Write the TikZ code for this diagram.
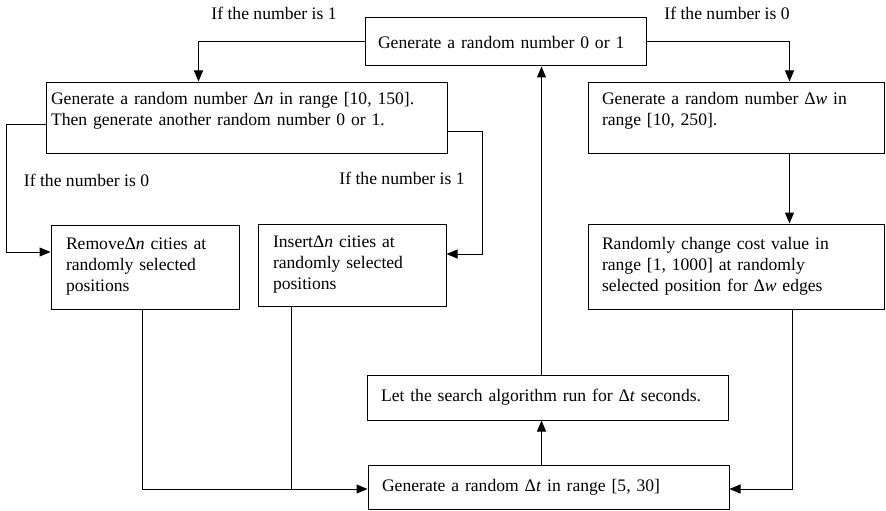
\documentclass[tikz,border=0pt]{standalone}
\usepackage{fontspec}
\setmainfont{Liberation Serif}
\usetikzlibrary{arrows.meta}
\newcommand{\flowfont}{\fontsize{17.6}{21}\selectfont}
\tikzset{
  stage/.style={draw, line width=1pt, align=left, inner xsep=14pt, inner ysep=0pt, font=\flowfont},
  branch/.style={font=\flowfont},
  flow/.style={line width=1pt, -{Triangle[length=11pt, width=9pt]}},
}
\begin{document}
\begin{tikzpicture}[x=1pt, y=-1pt]
  \useasboundingbox (0,0) rectangle (886,511);
  %
  \node[stage, inner xsep=13pt, text width=255pt, minimum height=48pt] (rnd) at (505.5,42)
    {Generate a random number 0 or 1};                                  % top
  %
  \node[stage, inner xsep=5pt, text width=391pt, minimum height=71pt, text depth=38pt] (gen n) at (246.5,117.5)
    {Generate a random number Δ\textit{n} in range [10, 150].\\
     Then generate another random number 0 or 1.};                     % left column
  \node[stage, inner xsep=15pt, text width=158pt, minimum height=84pt] (remove) at (145,267)
    {RemoveΔ\textit{n} cities at\\ randomly selected\\ positions};
  \node[stage, inner xsep=15pt, text width=158pt, minimum height=82pt] (insert) at (352,265)
    {InsertΔ\textit{n} cities at\\ randomly selected\\ positions};
  %
  \node[stage, text width=268pt, minimum height=71pt, text depth=38pt] (gen w) at (736,117.5)
    {Generate a random number Δ\textit{w} in\\ range [10, 250].};     % right column
  \node[stage, text width=268pt, minimum height=85pt] (change) at (736,266.5)
    {Randomly change cost value in\\ range [1, 1000] at randomly\\
     selected position for Δ\textit{w} edges};
  %
  \node[stage, text width=333pt, minimum height=45pt] (run) at (547.5,397.5)
    {Let the search algorithm run for Δ\textit{t} seconds.};         % middle
  \node[stage, text width=333pt, minimum height=44pt] (gen t) at (548.5,487)
    {Generate a random Δ\textit{t} in range [5, 30]};
  %
  \node[branch] (one top) at (274,13) {If the number is 1};            % branch labels
  \node[branch] (zero top) at (727,13) {If the number is 0};
  \node[branch] (zero low) at (86.5,180) {If the number is 0};
  \node[branch] (one low) at (402,178) {If the number is 1};
  %
  \draw[flow] (rnd.west) -| ([xshift=153pt]gen n.north west);
  \draw[flow] (rnd.east) -| ([xshift=202pt]gen w.north west);
  \draw[flow] ([xshift=202pt]gen w.south west) -- ([xshift=202pt]change.north west);
  %
  \draw[flow] ([yshift=-6.5pt]gen n.west) -- ++(-39pt,0) |- ([yshift=15pt]remove.west);
  \draw[flow] ([yshift=-13.5pt]gen n.east) -- ++(35pt,0) |- ([yshift=11pt]insert.east);
  %
  \coordinate (out remove) at ([xshift=92pt]remove.south west);
  \coordinate (out insert) at ([xshift=34pt]insert.south west);
  \coordinate (in t) at ([yshift=-2pt]gen t.west);
  \draw[flow] (out remove) |- (in t);
  \draw[line width=1pt] (out insert) -- (out insert |- in t);
  \draw[flow] ([xshift=205pt]change.south west) |- ([yshift=-2pt]gen t.east);
  %
  \coordinate (up) at ([xshift=174pt]gen t.north west);
  \draw[flow] (up) -- (up |- run.south);
  \draw[flow] (run.north -| up) -- (up |- rnd.south);
\end{tikzpicture}
\end{document}
